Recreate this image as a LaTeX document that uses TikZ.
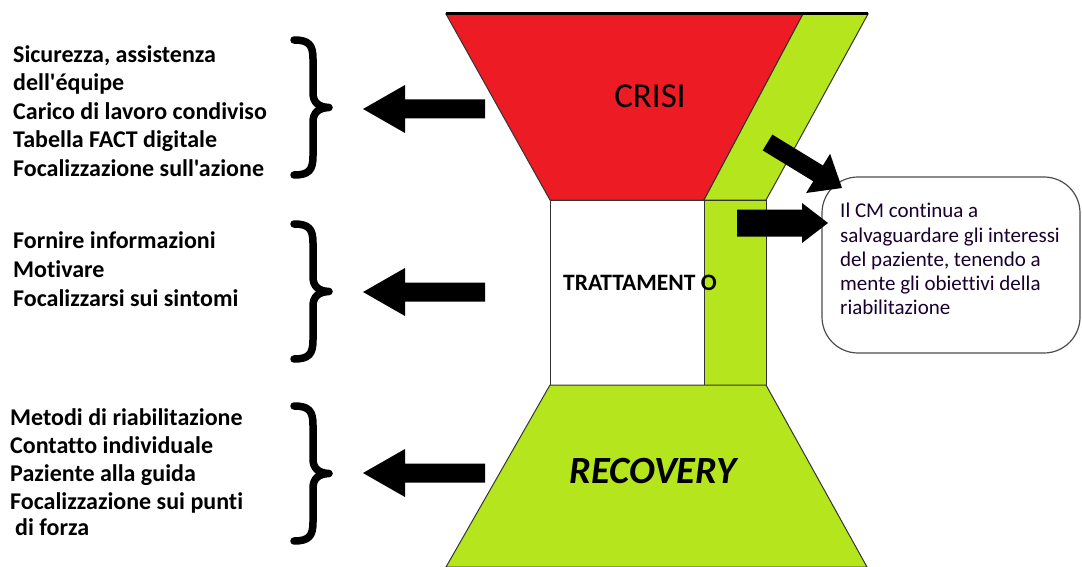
\documentclass[tikz,border=0pt]{standalone}
\usepackage{fontspec}
\setmainfont{Carlito}[Ligatures={TeXOff,NoCommon}]
\definecolor{paintred}{HTML}{ED1C24}
\definecolor{paintgreen}{HTML}{B5E61D}
\tikzset{
  lefttxt/.style={anchor=base west, inner sep=0pt, font=\fontsize{24}{28}\selectfont\bfseries},
  cmtxt/.style={anchor=base west, inner sep=0pt, text=black!80!blue!90!red, font=\fontsize{21}{24}\selectfont},
  partline/.style={draw=black!80, line width=1pt},
  curly/.pic={\draw[line width=7.5pt, line cap=round, line join=round]
      (2,3) .. controls (17,3) and (21,8) .. (21,22) -- (21,56)
      .. controls (21,65) and (26,70) .. (37,70.5)
      .. controls (26,71) and (21,76) .. (21,85) -- (21,119)
      .. controls (21,133) and (17,138) .. (2,138);},
  leftarrow/.pic={\fill[black] (0,0) -- (42,-24) -- (42,-9.5) -- (122,-9.5)
      -- (122,9.5) -- (42,9.5) -- (42,24) -- cycle;}
}
\begin{document}
\begin{tikzpicture}[x=1pt,y=-1pt]
\useasboundingbox (0,0) rectangle (1082,567);
% hourglass parts
\filldraw[partline, fill=paintred] (446,14) -- (803,14) -- (704,200) -- (550,200) -- cycle;
\filldraw[partline, fill=paintgreen] (803,14) -- (868,14) -- (776,182) -- (766,200) -- (704,200) -- cycle;
\filldraw[partline, fill=white] (550,200) rectangle (704,385);
\filldraw[partline, fill=paintgreen] (704,200) rectangle (766,385);
\filldraw[partline, fill=paintgreen] (550,385) -- (766,385) -- (867,567) -- (446,567) -- cycle;
\draw[line width=3pt] (446,14) -- (868,14);
% labels in the hourglass
\node[anchor=base, inner sep=0pt, font=\fontsize{35}{40}\selectfont] (crisi) at (650,108) {CRISI};
\node[anchor=base west, inner sep=0pt, font=\fontsize{23.5}{28}\selectfont\bfseries] (tratt) at (563,290) {TRATTAMENT O};
\node[anchor=base, inner sep=0pt, font=\fontsize{38.5}{42}\selectfont\bfseries\itshape] (recov) at (653,483) {RECOVERY};
% left texts
\node[lefttxt] (a1) at (13,63) {Sicurezza, assistenza};
\node[lefttxt] (a2) at (13,91) {dell'équipe};
\node[lefttxt] (a3) at (13,120) {Carico di lavoro condiviso};
\node[lefttxt] (a4) at (13,148) {Tabella FACT digitale};
\node[lefttxt] (a5) at (13,176) {Focalizzazione sull'azione};
\node[lefttxt] (b1) at (13,248) {Fornire informazioni};
\node[lefttxt] (b2) at (13,277) {Motivare};
\node[lefttxt] (b3) at (13,306) {Focalizzarsi sui sintomi};
\node[lefttxt] (c1) at (10,425) {Metodi di riabilitazione};
\node[lefttxt] (c2) at (10,453) {Contatto individuale};
\node[lefttxt] (c3) at (10,481) {Paziente alla guida};
\node[lefttxt] (c4) at (10,509) {Focalizzazione sui punti};
\node[lefttxt] (c5) at (15,535) {di forza};
% braces
\pic at (292,37) {curly};
\pic at (292,221) {curly};
\pic at (292,403) {curly};
% left arrows
\pic at (363,109) {leftarrow};
\pic at (363,292) {leftarrow};
\pic at (363,473) {leftarrow};
% CM box
\node[draw=black!70, line width=1.2pt, rounded corners=36pt, minimum width=258pt, minimum height=176pt, inner sep=0pt] (cm) at (951,265) {};
\node[cmtxt] (t1) at (840,217) {Il CM continua a};
\node[cmtxt] (t2) at (840,242) {salvaguardare gli interessi};
\node[cmtxt] (t3) at (840,266) {del paziente, tenendo a};
\node[cmtxt] (t4) at (840,290) {mente gli obiettivi della};
\node[cmtxt] (t5) at (840,314) {riabilitazione};
% arrows toward the CM box
\fill[black] (772.3,134.6) -- (822.9,165.5) -- (830.1,153.8) -- (842,188) -- (806.1,193.0) -- (813.3,181.3) -- (762.7,150.4) -- cycle;
\fill[black] (737,209.5) -- (802,209.5) -- (802,203) -- (828,223) -- (802,243) -- (802,236.5) -- (737,236.5) -- cycle;
\end{tikzpicture}
\end{document}
